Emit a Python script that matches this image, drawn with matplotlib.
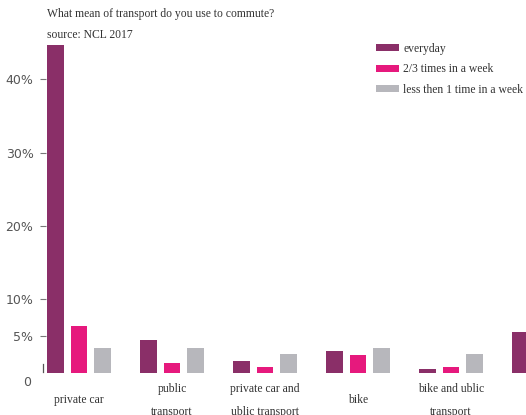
import numpy as np
import matplotlib.pyplot as plt

categories = ["private car", "public\ntransport", "private car and\nublic transport",
              "bike", "bike and ublic\ntransport", "on foot"]
everyday = [44.7, 4.5, 1.6, 3.0, 0.5, 5.5]
times_2_3 = [6.4, 1.3, 0.8, 2.4, 0.8, 1.0]
less_1 = [3.3, 3.4, 2.6, 3.3, 2.6, 3.0]
series_labels = ["everyday", "2/3 times in a week", "less then 1 time in a week"]
colors = ["#8a2f68", "#e6197d", "#b7b7bc"]
ytick_values = [5, 10, 20, 30, 40]
ytick_labels = ["5%", "10%", "20%", "30%", "40%"]

W, H = 526, 415
fig = plt.figure(figsize=(W / 100, H / 100), dpi=100)
# axes placed in pixel terms: left at 46px, baseline at 372.6px, top at 30px
ax = fig.add_axes([46 / W, (H - 372.6) / H, (W - 46) / W, (372.6 - 30) / H])

x = np.arange(len(categories))
step = 0.25
width = 0.18
b1 = ax.bar(x - step, everyday, width, color=colors[0])
b2 = ax.bar(x, times_2_3, width, color=colors[1])
b3 = ax.bar(x + step, less_1, width, color=colors[2])

for s in ax.spines.values():
    s.set_visible(False)

ax.set_yticks(ytick_values)
ax.set_yticklabels(ytick_labels, fontfamily="DejaVu Sans", fontsize=9, color="#555555")
ax.tick_params(axis="y", length=4, width=0.8, color="#777777", pad=5)

serif = "Liberation Serif"
ax.set_xticks(x)
ax.set_xticklabels(categories, fontfamily=serif, fontsize=8.4,
                   color="#333333", linespacing=2.2)
ax.tick_params(axis="x", length=0, pad=20)
for lab in ax.get_xticklabels():
    lab.set_verticalalignment("center")

# limits after set_xticks, otherwise the last tick widens the view
ax.set_xlim(-0.355, 4.806)
ax.set_ylim(0, (372.6 - 30) / 7.333)

# odd "0" label and small vertical mark at the baseline
ytr = ax.get_yaxis_transform()
ax.text(-0.030, -1.3, "0", transform=ytr, ha="right", va="center",
        fontfamily="DejaVu Sans", fontsize=9, color="#555555")
ax.plot([-0.006, -0.006], [0.1, 1.2], transform=ytr, color="#555555",
        lw=0.9, clip_on=False)

fig.text(47 / W, 1 - 14 / H, "What mean of transport do you use to commute?",
         fontfamily=serif, fontsize=8.4, color="#333333", va="center")
fig.text(47 / W, 1 - 35 / H, "source: NCL 2017",
         fontfamily=serif, fontsize=8.4, color="#333333", va="center")

ax.legend([b1, b2, b3], series_labels, loc="upper left",
          bbox_to_anchor=(376 / W, 1 - 43 / H), bbox_transform=fig.transFigure,
          frameon=False, borderpad=0, borderaxespad=0, handlelength=2.0,
          handleheight=0.55, handletextpad=0.35, labelspacing=0.72,
          prop={"family": serif, "size": 8.4}, labelcolor="#333333")

fig.savefig("out.png", dpi=100)
